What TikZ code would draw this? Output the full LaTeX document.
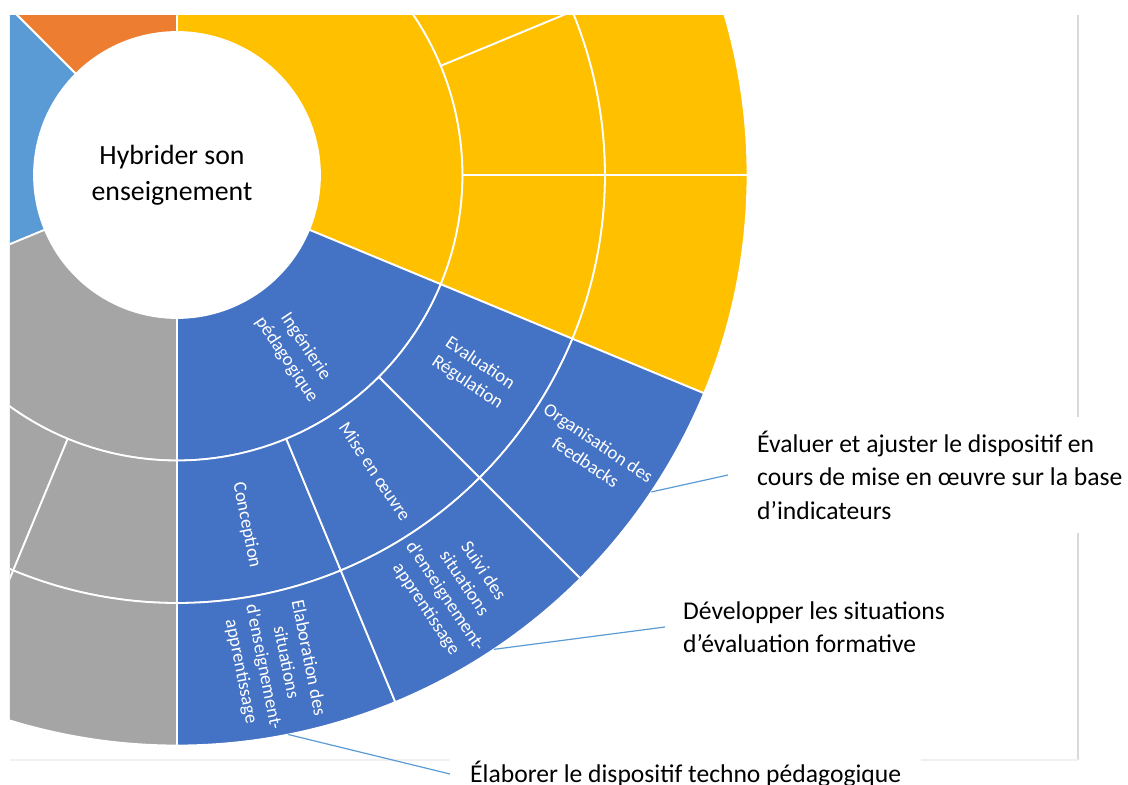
\documentclass[tikz,border=0pt]{standalone}
\usepackage{fontspec}
\setmainfont{Carlito}
\definecolor{sbYellow}{HTML}{FFC000}
\definecolor{sbBlue}{HTML}{4472C4}
\definecolor{sbGrey}{HTML}{A5A5A5}
\definecolor{sbOrange}{HTML}{ED7D31}
\definecolor{sbSky}{HTML}{5B9BD5}
\definecolor{frameGrey}{HTML}{D9D9D9}
\definecolor{frameLight}{HTML}{F0F0F0}
%% One ring piece: colour, start angle, end angle, inner radius, outer radius.
\newcommand{\drawSector}[5]{%
  \filldraw[sectorStyle,fill=#1] (#2:#4) arc[start angle=#2,end angle=#3,radius=#4]
    -- (#3:#5) arc[start angle=#3,end angle=#2,radius=#5] -- cycle;}

\begin{document}
\begin{tikzpicture}[x=1pt,y=1pt,%%
  sectorStyle/.style={draw=white,line width=1.8pt,line join=round},%%
  segLabelStyle/.style={text=white,align=center,inner sep=0pt,font=\fontsize{18.7}{22.8}\selectfont},%%
  calloutStyle/.style={fill=white,text=black,align=left,inner ysep=14pt,font=\fontsize{25.6}{33.5}\selectfont},%%
  leaderStyle/.style={-,draw=sbSky,line width=1.2pt},%%
  frameStyle/.style={-,line width=2pt}%%
]
%%
%%
\pgfmathsetmacro{\rHole}{143}
\pgfmathsetmacro{\rOne}{285.5}
\pgfmathsetmacro{\rTwo}{428}
\pgfmathsetmacro{\rThree}{570.5}
\pgfmathsetmacro{\mOne}{(\rHole+\rOne)/2}
\pgfmathsetmacro{\mTwo}{(\rOne+\rTwo)/2}
\pgfmathsetmacro{\mThree}{(\rTwo+\rThree)/2}
%%
\useasboundingbox (-177,-610) rectangle (951,175);
%%
%% The sunburst, cut by the chart area.
\begin{scope}
\clip (-167,-585) rectangle (901,160);
%% Inner ring.
\foreach \col/\aStart/\aEnd in {sbYellow/-22.5/90,sbOrange/90/135,sbSky/135/202.5,%
    sbGrey/202.5/270,sbBlue/270/337.5}{
  \drawSector{\col}{\aStart}{\aEnd}{\rHole}{\rOne}
}
%% Middle and outer rings.
\foreach \rIn/\rOut in {\rOne/\rTwo,\rTwo/\rThree}{
  \foreach \col/\aStart/\aEnd in {sbYellow/-22.5/0,sbYellow/0/22.5,sbYellow/22.5/90,%
      sbOrange/90/135,sbSky/135/202.5,sbGrey/202.5/247.5,sbGrey/247.5/270,%
      sbBlue/270/292.5,sbBlue/292.5/315,sbBlue/315/337.5}{
    \drawSector{\col}{\aStart}{\aEnd}{\rIn}{\rOut}
  }
}
\end{scope}
%%
%% The centre.
\node[align=center,text=black,font=\fontsize{27.8}{36}\selectfont] (hubLabel) at (-5,0)
  {Hybrider son\\enseignement};
%%
%% Labels of the blue branch.
\node[segLabelStyle,rotate=-56.25] (ingLabel) at (-56.25:\mOne) {Ingénierie\\pédagogique};
\node[segLabelStyle,rotate=-78.75] (concLabel) at (-78.75:\mTwo) {Conception};
\node[segLabelStyle,rotate=-56.25] (miseLabel) at (-56.25:\mTwo) {Mise en œuvre};
\node[segLabelStyle,rotate=-33.75] (evalLabel) at (-33.75:\mTwo) {Evaluation\\Régulation};
\node[segLabelStyle,rotate=-78.75] (elabLabel) at (-78.75:\mThree)
  {Elaboration des\\situations\\d\textquotesingle enseignement-\\apprentissage};
\node[segLabelStyle,rotate=-56.25] (suiviLabel) at (-56.25:\mThree)
  {Suivi des\\situations\\d\textquotesingle enseignement-\\apprentissage};
\node[segLabelStyle,rotate=-33.75] (orgLabel) at (-33.75:\mThree) {Organisation des\\feedbacks};
%%
%% Chart frame.
\coordinate (frameTop) at (901,160);
\coordinate (frameCorner) at (901,-585);
\coordinate (frameLeft) at (-167,-585);
\draw[frameStyle,draw=frameGrey] (frameTop) -- (frameCorner);
\draw[frameStyle,draw=frameLight] (frameLeft) -- (frameCorner);
%%
%% Callouts.
\coordinate (orgEdge) at (-33.75:\rThree);
\coordinate (suiviEdge) at (-56.25:\rThree);
\coordinate (elabEdge) at (-78.75:\rThree);
\node[calloutStyle,inner xsep=29pt,anchor=west] (evalNote) at (551,-300)
  {Évaluer et ajuster le dispositif en\\cours de mise en œuvre sur la base\\d’indicateurs};
\node[calloutStyle,inner xsep=18pt,anchor=west] (devNote) at (488,-452)
  {Développer les situations\\d’évaluation formative};
\node[calloutStyle,inner xsep=20pt,anchor=west] (elabNote) at (273,-599)
  {Élaborer le dispositif techno pédagogique};
\draw[leaderStyle] (orgEdge) -- (evalNote.west);
\draw[leaderStyle] (suiviEdge) -- (devNote.west);
\draw[leaderStyle] (elabEdge) -- (elabNote.west);
\end{tikzpicture}
\end{document}
